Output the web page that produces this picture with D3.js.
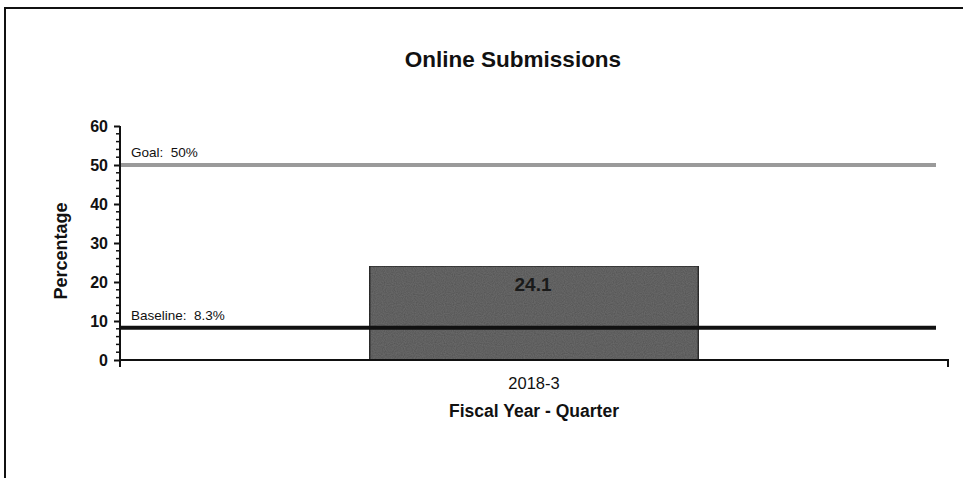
<!DOCTYPE html>
<html><head><meta charset="utf-8">
<script src="https://cdn.jsdelivr.net/npm/d3@7"></script>
<style>
html,body{margin:0;padding:0;background:#fff;}
svg{display:block;font-family:"Liberation Sans",Arial,sans-serif;}
</style></head>
<body>
<svg id="chart" width="963" height="478"></svg>
<script>
const categories = ["2018-3"];
const values = [24.1];
const yTicks = [0, 10, 20, 30, 40, 50, 60];
const refLines = [
  {name: "Goal", value: 50, label: "Goal:  50%"},
  {name: "Baseline", value: 8.3, label: "Baseline:  8.3%"}
];
const titleText = "Online Submissions";
const yTitle = "Percentage";
const xTitle = "Fiscal Year - Quarter";

const svg = d3.select("#chart");
const W = 963, H = 478;
const m = {left: 120, right: 15, top: 126, bottom: 118};
const x0 = m.left, x1 = W - m.right, y0 = H - m.bottom, y1 = m.top;

// subtle texture for the bar, like the scanned original
const defs = svg.append("defs");
const f = defs.append("filter").attr("id","grain").attr("x",0).attr("y",0).attr("width",1).attr("height",1);
f.append("feTurbulence").attr("type","fractalNoise").attr("baseFrequency",0.9).attr("numOctaves",1).attr("seed",3).attr("result","noise");
f.append("feColorMatrix").attr("in","noise").attr("type","matrix")
  .attr("values","0 0 0 0 0  0 0 0 0 0  0 0 0 0 0  0 0 0 0.55 -0.1").attr("result","dark");
f.append("feComposite").attr("in","dark").attr("in2","SourceGraphic").attr("operator","in").attr("result","dk");
f.append("feMerge").selectAll("feMergeNode").data(["SourceGraphic","dk"]).enter()
  .append("feMergeNode").attr("in", d => d);

// outer frame (top and left)
svg.append("path").attr("d", `M5,${H}V8H${W}`).attr("fill","none").attr("stroke","#111").attr("stroke-width",2);

const x = d3.scaleBand().domain(categories).range([x0, x1]).paddingInner(0).paddingOuter(0.76);
const y = d3.scaleLinear().domain([0, 60]).range([y0, y1]);

// bars
svg.selectAll("rect.bar").data(values).enter().append("rect")
  .attr("class","bar")
  .attr("x", (d,i) => x(categories[i]))
  .attr("width", x.bandwidth())
  .attr("y", d => y(d))
  .attr("height", d => y(0) - y(d))
  .attr("fill", "#6a6a6a")
  .attr("filter","url(#grain)")
  .attr("stroke", "#333").attr("stroke-width", 1.5);

// reference lines
const refColors = {Goal: "#9a9a9a", Baseline: "#111"};
svg.selectAll("line.ref").data(refLines).enter().append("line")
  .attr("x1", x0).attr("x2", x1 - 12)
  .attr("y1", d => y(d.value)).attr("y2", d => y(d.value))
  .attr("stroke", d => refColors[d.name]).attr("stroke-width", 4);
svg.selectAll("text.ref").data(refLines).enter().append("text")
  .attr("x", x0 + 11).attr("y", d => y(d.value) - 8)
  .attr("font-size", 13.5).attr("fill", "#111")
  .attr("xml:space","preserve")
  .text(d => d.label);

// bar labels
svg.selectAll("text.val").data(values).enter().append("text")
  .attr("x", (d,i) => x(categories[i]) + x.bandwidth()/2 - 1)
  .attr("y", d => y(d) + 25)
  .attr("text-anchor","middle").attr("font-size", 19).attr("font-weight","bold").attr("fill","#1a1a1a")
  .text(d => d.toFixed(1));

// y axis
const yAxis = d3.axisLeft(y).tickValues(yTicks).tickSize(6).tickPadding(6).tickFormat(d3.format("d"));
const gy = svg.append("g").attr("transform", `translate(${x0},0)`).call(yAxis);
gy.select(".domain").attr("stroke","#111").attr("stroke-width",2).attr("d", `M-0,${y0+7}V${y1}`);
gy.selectAll(".tick line").attr("stroke","#111").attr("stroke-width",2);
gy.selectAll(".tick text").attr("font-size",16).attr("font-weight","bold").attr("fill","#111")
  .attr("font-family","'Liberation Sans',Arial,sans-serif");
// minor ticks
const minor = d3.range(0, 61, 2).filter(v => v % 10 !== 0);
gy.selectAll("line.minor").data(minor).enter().append("line")
  .attr("x1", -4).attr("x2", 0).attr("y1", d => y(d)).attr("y2", d => y(d))
  .attr("stroke","#111").attr("stroke-width",1.5);

// x axis
const xAxis = d3.axisBottom(x).tickSize(0).tickPadding(17);
const gx = svg.append("g").attr("transform", `translate(0,${y0})`).call(xAxis);
gx.select(".domain").attr("stroke","#111").attr("stroke-width",2).attr("d", `M${x0},0H${x1}V7`);
gx.selectAll(".tick text").attr("font-size",16.5).attr("fill","#111")
  .attr("font-family","'Liberation Sans',Arial,sans-serif");

// titles
svg.append("text").attr("x", 513).attr("y", 67).attr("text-anchor","middle")
  .attr("font-size", 22.5).attr("font-weight","bold").attr("fill","#111").text(titleText);
svg.append("text").attr("transform", `translate(67,${(y0+y1)/2 + 8}) rotate(-90)`).attr("text-anchor","middle")
  .attr("font-size", 18).attr("font-weight","bold").attr("fill","#111").text(yTitle);
svg.append("text").attr("x", x(categories[0]) + x.bandwidth()/2).attr("y", 417).attr("text-anchor","middle")
  .attr("font-size", 17.5).attr("font-weight","bold").attr("fill","#111").text(xTitle);
</script>
</body></html>
